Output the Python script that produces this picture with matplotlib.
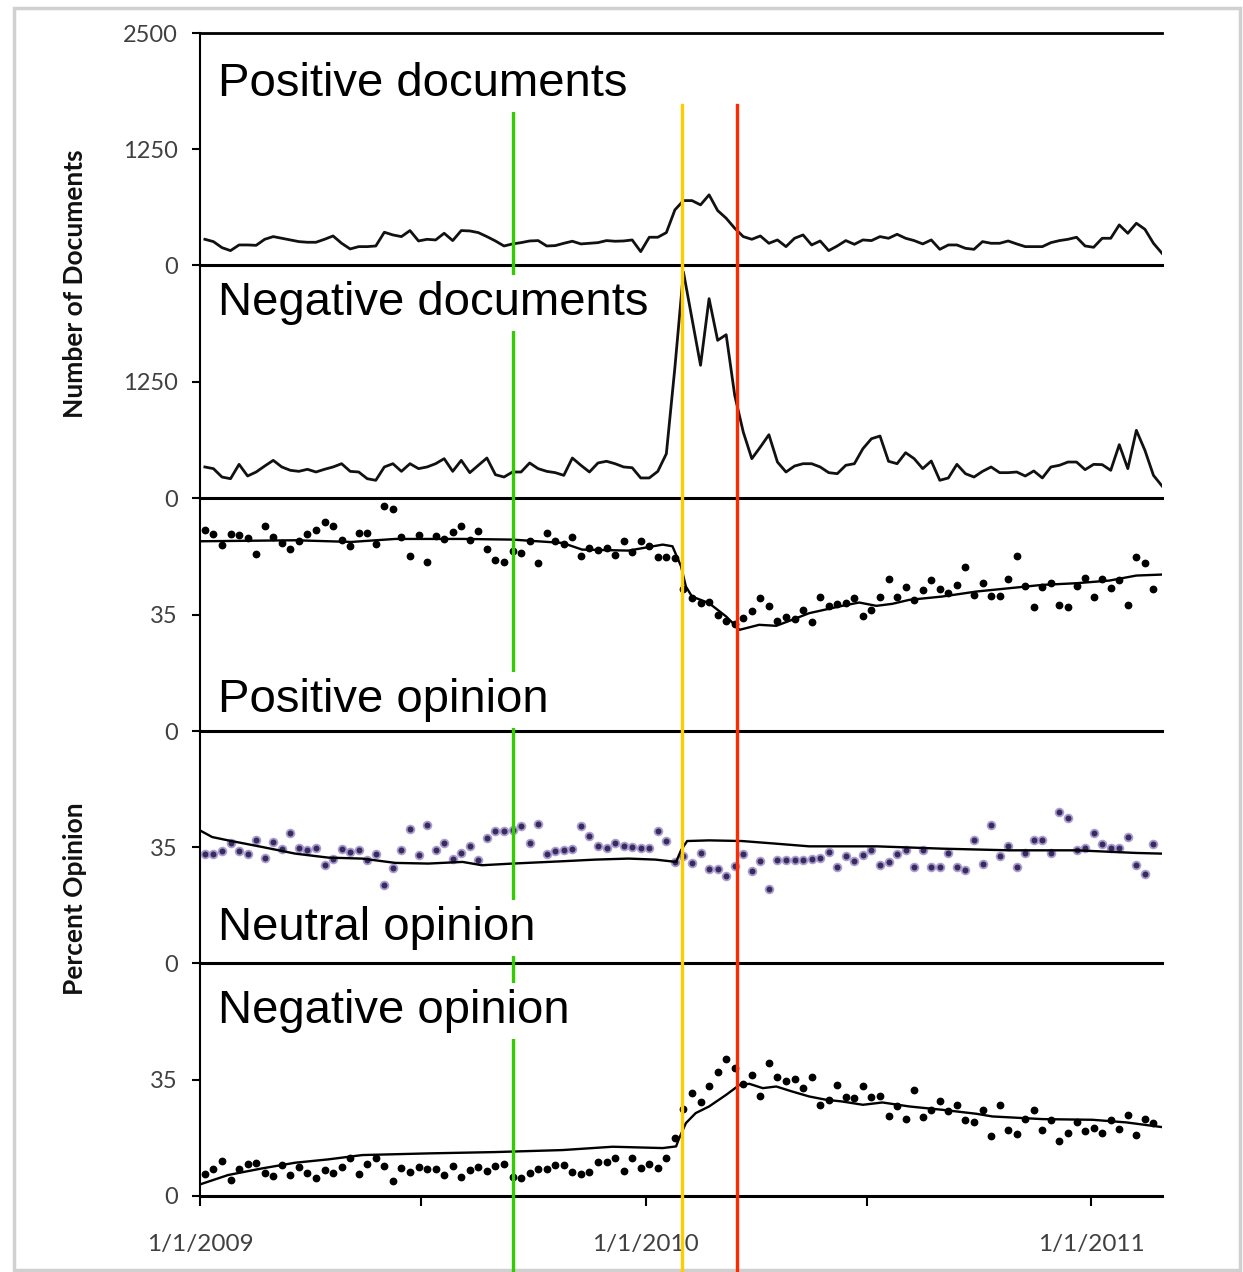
import matplotlib
matplotlib.use("Agg")
import matplotlib.pyplot as plt
import matplotlib.dates as mdates
import matplotlib.transforms as mtrans
from matplotlib.lines import Line2D
from matplotlib.patches import Rectangle
import pandas as pd

plt.rcParams['font.family'] = ['Lato', 'DejaVu Sans']

# ---------------- data ----------------
weeks = pd.date_range('2009-01-05', periods=113, freq='7D')

pos_docs = [277, 252, 187, 155, 216, 216, 212, 277, 306, 288,
            270, 252, 245, 245, 277, 313, 234, 173, 198, 198,
            205, 353, 324, 306, 371, 259, 277, 270, 342, 263,
            371, 367, 349, 306, 259, 205, 227, 241, 259, 263,
            205, 209, 234, 256, 227, 234, 241, 263, 256, 259,
            270, 144, 299, 299, 349, 594, 694,
            694, 648, 756, 587, 504, 396, 306, 277, 313, 234,
            270, 198, 288, 324, 216, 259, 155, 205, 263, 223,
            270, 263, 306, 288, 331, 288, 263, 227, 270, 169,
            216, 216, 180, 169, 252, 234, 234, 259, 227, 198,
            198, 198, 241, 263, 277, 299, 205, 191, 288, 288,
            432, 342, 450, 385, 234, 126]

neg_docs = [333, 315, 225, 207, 361, 236, 279, 343, 404, 333,
            297, 286, 308, 279, 308, 333, 368, 286, 279, 207,
            190, 333, 368, 286, 368, 315, 333, 368, 422, 286,
            404, 272, 351, 429, 250, 225, 279, 279, 376, 315,
            286, 272, 243, 429, 351, 279, 376, 394, 368, 333,
            325, 215, 215, 286, 475, 1400,
            2425, 1924, 1424, 2139, 1692, 1752, 1102, 708, 422, 547,
            679, 386, 279, 343, 368, 368, 333, 272, 261, 351,
            368, 529, 636, 665, 394, 368, 486, 422, 315, 397,
            190, 215, 361, 261, 225, 286, 333, 272, 272, 279,
            236, 290, 215, 333, 351, 386, 386, 304, 361, 358,
            297, 572, 315, 726, 512, 243, 129]

pos_op = [60.3, 59.3, 56.0, 59.3, 59.0, 58.0, 53.3, 61.7, 58.3, 56.5,
          54.7, 57.0, 59.2, 60.3, 62.7, 61.7, 57.5, 55.7, 59.5, 59.5,
          56.3, 67.5, 66.7, 58.3, 52.5, 59.0, 50.9, 58.7, 57.7, 59.7,
          61.5, 57.5, 60.2, 54.7, 51.5, 50.7, 54.0, 53.5, 57.0, 50.5,
          59.5, 57.2, 56.3, 58.3, 52.5, 55.0, 54.3, 55.0, 53.0, 57.0,
          53.8, 57.0, 55.7, 52.3, 52.3, 52.0,
          42.7, 39.9, 38.4, 38.9, 34.9, 32.9, 32.2, 33.9, 36.1, 39.9,
          37.6, 32.9, 34.2, 33.6, 36.4, 32.6, 40.2, 37.6, 38.2, 38.6,
          39.9, 34.6, 36.4, 40.4, 45.7, 40.2, 43.2, 39.4, 42.4, 45.4,
          42.6, 41.4, 43.9, 49.2, 41.0, 44.4, 40.6, 40.6, 45.8, 52.7,
          43.6, 37.2, 43.2, 44.6, 37.9, 37.4, 43.6, 46.0, 40.4, 45.7,
          43.0, 45.4, 37.9, 52.3, 50.4, 42.6]

neu_op = [33.0, 33.0, 33.7, 36.2, 33.8, 32.8, 37.0, 31.8, 36.5, 34.3,
          39.3, 34.7, 34.2, 34.7, 29.7, 31.5, 34.3, 33.5, 34.2, 31.0,
          32.8, 23.5, 28.8, 34.0, 40.3, 32.7, 41.5, 34.0, 36.2, 31.5,
          33.3, 35.2, 31.2, 37.8, 39.8, 39.8, 40.2, 41.3, 36.3, 41.8,
          32.8, 33.8, 34.2, 34.5, 41.2, 38.2, 35.3, 34.8, 36.2, 35.3,
          35.0, 34.7, 34.7, 39.8, 36.8, 30.5,
          32.2, 30.2, 33.2, 28.3, 28.3, 26.2, 29.2, 33.0, 27.7, 30.7,
          22.2, 31.2, 31.2, 31.2, 31.2, 31.5, 31.8, 33.5, 29.0, 32.2,
          30.8, 32.7, 34.0, 29.7, 30.5, 33.0, 34.0, 29.0, 34.2, 29.0,
          29.0, 33.2, 29.0, 28.2, 37.2, 29.8, 41.5, 32.2, 35.2, 29.0,
          33.2, 37.2, 37.2, 33.2, 45.5, 43.9, 34.2, 34.7, 39.2, 36.0,
          34.7, 34.7, 38.0, 29.5, 26.8, 35.8]

neg_op = [6.6, 8.0, 10.6, 4.8, 8.0, 9.6, 10.0, 6.8, 6.0, 9.3,
          6.3, 8.6, 7.0, 5.3, 7.8, 7.0, 8.6, 11.3, 6.5, 9.6,
          11.3, 9.1, 4.6, 8.3, 7.1, 8.6, 8.1, 8.0, 6.3, 9.1,
          5.8, 7.8, 8.8, 7.5, 9.0, 9.6, 5.6, 5.3, 7.0, 8.0,
          8.0, 9.3, 9.3, 7.3, 6.6, 7.1, 10.3, 10.3, 11.3, 7.6,
          11.3, 8.3, 9.6, 8.3, 11.3, 17.4,
          26.1, 30.9, 28.2, 32.9, 37.2, 41.1, 38.4, 33.6, 36.4, 29.9,
          40.1, 35.7, 34.4, 35.2, 32.4, 35.7, 27.4, 28.9, 33.4, 29.7,
          29.4, 32.9, 29.7, 30.1, 23.9, 27.1, 23.2, 31.9, 23.7, 25.7,
          28.6, 25.4, 27.2, 22.7, 22.1, 25.9, 17.9, 27.4, 19.9, 18.6,
          23.2, 25.9, 19.9, 22.9, 16.6, 18.9, 22.1, 19.4, 20.4, 18.9,
          22.7, 20.1, 24.4, 18.4, 23.2, 21.9]

# smoothed trend lines: day offsets from 2009-01-01 and values
pos_trend_day = [1, 78, 124, 160, 215, 256, 297, 313, 351, 379,
                 387, 394, 398, 403, 417, 431, 442, 458, 472, 485,
                 499, 526, 540, 554, 567, 581, 608, 636, 663, 690,
                 718, 745, 767, 788]
pos_trend = [57.0, 57.3, 56.8, 57.7, 57.7, 57.5, 56.5, 54.5, 54.2, 56.0,
             55.5, 49.5, 43.4, 40.4, 38.4, 34.4, 30.4, 31.9, 31.6, 33.4,
             35.4, 37.6, 38.6, 37.6, 38.2, 39.4, 40.4, 41.9, 42.9, 43.9,
             44.4, 45.2, 46.7, 47.0]

neu_trend_day = [1, 10, 23, 51, 78, 105, 133, 160, 187, 215,
                 231, 256, 297, 324, 351, 373, 390, 394, 399, 417,
                 444, 472, 499, 554, 608, 663, 718, 767, 788]
neu_trend = [39.8, 38.0, 37.0, 35.0, 33.0, 31.8, 31.5, 30.2, 30.0, 30.5,
             29.5, 30.0, 30.7, 31.2, 31.5, 31.2, 30.5, 34.0, 36.8, 37.0,
             36.8, 36.0, 35.2, 35.2, 34.5, 34.0, 34.0, 33.2, 33.0]

neg_trend_day = [1, 23, 51, 78, 105, 133, 187, 242, 297, 338,
                 379, 390, 392, 398, 406, 417, 431, 442, 450, 461,
                 472, 485, 499, 513, 526, 543, 559, 581, 608, 636,
                 649, 690, 731, 759, 788]
neg_trend = [3.6, 6.3, 8.3, 10.0, 11.0, 12.3, 12.8, 13.2, 13.8, 14.8,
             14.4, 14.9, 16.9, 21.9, 24.9, 26.9, 30.4, 33.4, 33.7, 32.4,
             32.9, 31.4, 29.9, 28.9, 28.4, 27.4, 28.1, 26.9, 25.9, 24.7,
             23.9, 23.1, 22.9, 22.1, 20.7]

panel_titles = ['Positive documents', 'Negative documents', 'Positive opinion',
                'Neutral opinion', 'Negative opinion']
event_dates = ['2009-09-14', '2010-01-31', '2010-03-17']
event_colors = ['#33cc00', '#ffcc00', '#ff2a00']
xtick_dates = ['2009-01-01', '2009-07-01', '2010-01-01', '2010-07-01', '2011-01-01']
xtick_labels = ['1/1/2009', '', '1/1/2010', '', '1/1/2011']

# ---------------- figure ----------------
W, H = 1243, 1272
fig = plt.figure(figsize=(W / 100, H / 100), dpi=100)

base = pd.Timestamp('2009-01-01')
def tdates(days):
    return base + pd.to_timedelta(days, unit='D')

left_px, right_px = 200, 1162
bounds = [33, 265, 498, 731, 963, 1196]
axes = []
for k in range(5):
    top, bot = bounds[k], bounds[k + 1]
    ax = fig.add_axes([left_px / W, 1 - bot / H, (right_px - left_px) / W, (bot - top) / H])
    ax.set_xlim(pd.Timestamp('2009-01-01'), pd.Timestamp('2011-02-28'))
    ax.set_facecolor('none')
    ax.spines['right'].set_visible(False)
    ax.spines['top'].set_visible(k == 0)
    ax.spines['top'].set_linewidth(2.0)
    ax.spines['left'].set_linewidth(1.5)
    ax.spines['bottom'].set_linewidth(2.2)
    ax.tick_params(axis='y', direction='out', length=6, width=1.5, pad=10,
                   labelsize=17, labelcolor='#404040')
    axes.append(ax)

ax0, ax1, ax2, ax3, ax4 = axes

doc_kw = dict(color='#111111', lw=2.0, solid_joinstyle='round')
ax0.plot(weeks, pos_docs, **doc_kw)
ax0.set_ylim(0, 2500)
ax0.set_yticks([0, 1250, 2500])

ax1.plot(weeks, neg_docs, **doc_kw)
ax1.set_ylim(0, 2500)
ax1.set_yticks([0, 1250])

dot_kw = dict(linestyle='none', marker='o', ms=4.6, color='black')
trend_kw = dict(color='black', lw=1.7)

ax2.plot(weeks[:len(pos_op)], pos_op, **dot_kw)
ax2.plot(tdates(pos_trend_day), pos_trend, **trend_kw)

ax3.plot(weeks[:len(neu_op)], neu_op, linestyle='none', marker='o', ms=5.6,
         markerfacecolor='#3a2a5c', markeredgecolor='#a99ed2', markeredgewidth=1.3)
ax3.plot(tdates(neu_trend_day), neu_trend, **trend_kw)

ax4.plot(weeks[:len(neg_op)], neg_op, **dot_kw)
ax4.plot(tdates(neg_trend_day), neg_trend, **trend_kw)

for ax in (ax2, ax3, ax4):
    ax.set_ylim(0, 70)
    ax.set_yticks([0, 35])

for ax in (ax0, ax1, ax2, ax3):
    ax.tick_params(axis='x', bottom=False, labelbottom=False)

ax4.set_xticks([pd.Timestamp(d) for d in xtick_dates])
ax4.set_xticklabels(xtick_labels)
ax4.tick_params(axis='x', direction='out', length=7, width=1.5, pad=20,
                labelsize=17.5, labelcolor='#404040')

# axis titles
fig.text(75 / W, 1 - 284 / H, 'Number of Documents', rotation=90, ha='center',
         va='center', fontsize=19, fontweight='bold', color='#111111')
fig.text(75 / W, 1 - 899 / H, 'Percent Opinion', rotation=90, ha='center',
         va='center', fontsize=19, fontweight='bold', color='#111111')

# event lines spanning the whole column
trans = mtrans.blended_transform_factory(ax4.transData, fig.transFigure)
for d, c in zip(event_dates, event_colors):
    xd = mdates.date2num(pd.Timestamp(d))
    fig.add_artist(Line2D([xd, xd], [0, 1 - 105 / H], transform=trans,
                          color=c, lw=2.4, zorder=3))

# panel titles with white boxes
title_baselines = [96, 315, 712, 940, 1023]
for t, b in zip(panel_titles, title_baselines):
    fig.text(218 / W, 1 - b / H, t, ha='left', va='baseline', fontsize=34,
             family='Liberation Sans', color='black', zorder=5,
             bbox=dict(boxstyle='square,pad=0.12', facecolor='white', edgecolor='none'))

# light frame around the figure
fig.add_artist(Rectangle((14 / W, 1 - 1270 / H), (1240 - 14) / W, (1270 - 8) / H,
                         transform=fig.transFigure, fill=False, edgecolor='#d0d0d0',
                         lw=2.5, zorder=1))

fig.savefig('out.png', dpi=100)
